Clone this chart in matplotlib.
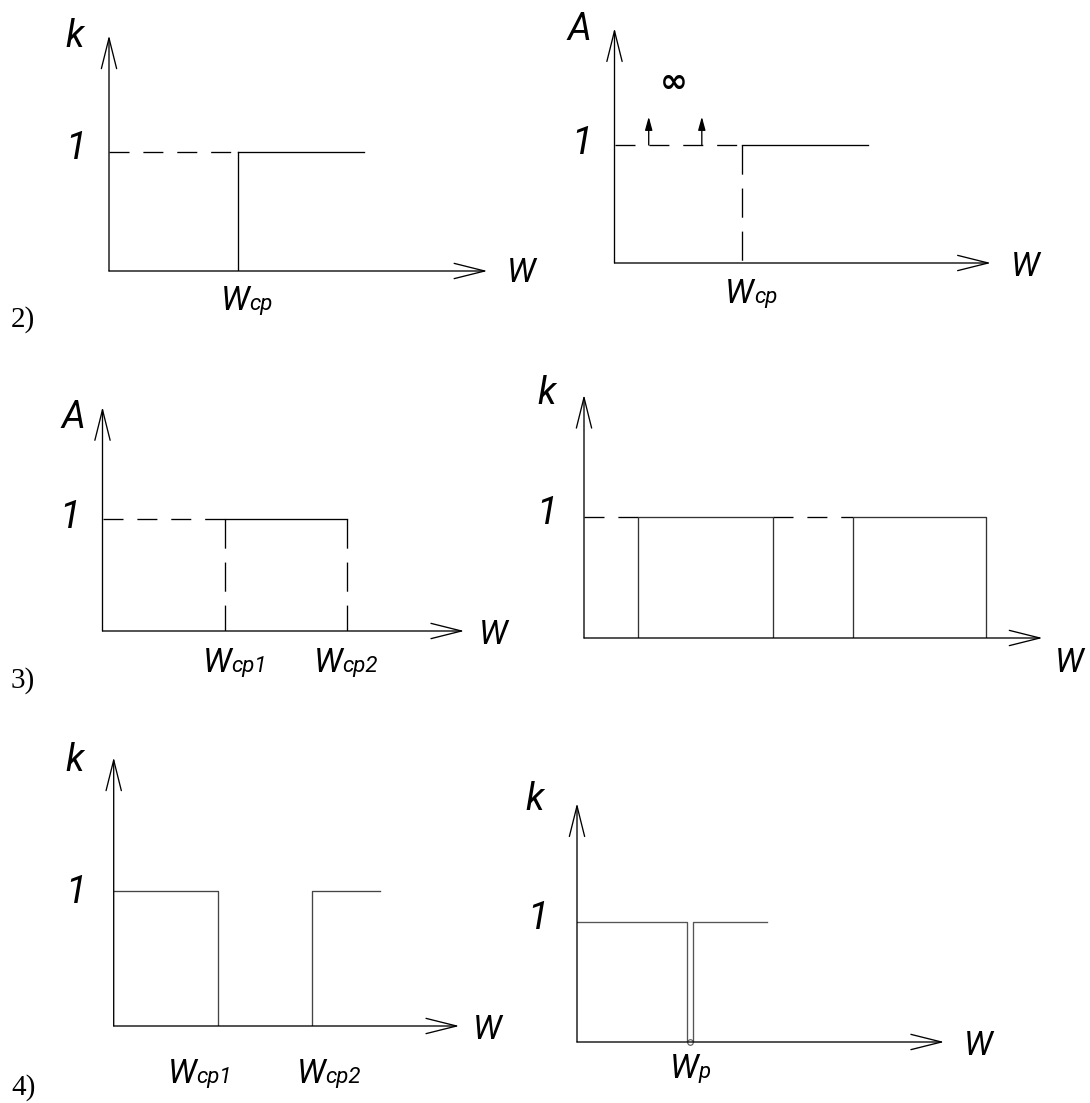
import matplotlib.pyplot as plt

plt.rcParams['font.family'] = ['Roboto', 'DejaVu Sans']
plt.rcParams['lines.scale_dashes'] = False

W_PX, H_PX = 1090, 1103

# 2) low-pass k(w): dashed to cutoff, solid after
lp_cut = 1.08
lp_end = 2.14
# 2) A(w): two delta spikes in the stop band
hp_cut = 1.08
hp_end = 2.15
hp_spikes = [0.29, 0.74]
hp_spike_top = 1.24
# 3) band-pass A(w)
bp_cuts = [1.09, 2.18]
# 3) comb k(w): two pass bands
comb_edges = [0.45, 1.56, 2.22, 3.32]
# 4) band-stop k(w)
bs_cuts = [0.77, 1.47]
bs_end = 1.97
# 4) notch k(w)
notch = [0.915, 0.97]
notch_end = 1.58
level = 1.0

LW = 0.95
DASH_H = (0, (14.4, 10))
DASH_V = (0, (21, 10))
TXT = dict(style='italic', clip_on=False)


def make_panel(ox, oy, unit, xmax, ymax):
    # ox, oy: origin in pixels, unit: pixels per data unit
    ax = fig.add_axes([ox / W_PX, 1 - oy / H_PX, xmax * unit / W_PX, ymax * unit / H_PX])
    ax.set_xlim(0, xmax)
    ax.set_ylim(0, ymax)
    ax.axis('off')
    arrow = dict(arrowstyle='->,head_length=2.2,head_width=0.55', lw=LW, color='k',
                 shrinkA=0, shrinkB=0)
    ax.annotate('', xy=(xmax, 0), xytext=(0, 0), arrowprops=arrow, annotation_clip=False)
    ax.annotate('', xy=(0, ymax), xytext=(0, 0), arrowprops=arrow, annotation_clip=False)
    return ax


def labels(ax, ylab, ypos, onepos, wpos, subs):
    ax.text(*ypos, ylab, fontsize=27, ha='center', va='center', **TXT)
    ax.text(*onepos, '1', fontsize=28, ha='center', va='center', **TXT)
    ax.text(*wpos, 'W', fontsize=24, ha='center', va='center', **TXT)
    for x, y, s in subs:
        ax.text(x, y, 'W', fontsize=24, ha='right', va='baseline', **TXT)
        ax.text(x, y, s, fontsize=16, ha='left', va='baseline', **TXT)


fig = plt.figure(figsize=(W_PX / 100, H_PX / 100), dpi=100)

# ---- 2) left
ax = make_panel(109, 271, 119, 3.18, 1.98)
ax.plot([0, lp_cut], [level, level], color='k', lw=LW, ls=DASH_H)
ax.plot([lp_cut, lp_end], [level, level], color='k', lw=LW)
ax.plot([lp_cut, lp_cut], [0, level], color='k', lw=LW)
labels(ax, 'k', (-0.29, 1.97), (-0.28, 1.03), (3.46, -0.02), [(1.18, -0.33, 'ср')])

# ---- 2) right
ax = make_panel(614.5, 263, 118, 3.19, 1.99)
ax.plot([0, hp_cut], [level, level], color='k', lw=LW, ls=DASH_H)
ax.plot([hp_cut, hp_end], [level, level], color='k', lw=LW)
ax.plot([hp_cut, hp_cut], [level, 0], color='k', lw=LW, ls=DASH_V)
for s in hp_spikes:
    ax.annotate('', xy=(s, hp_spike_top), xytext=(s, level),
                arrowprops=dict(arrowstyle='-|>,head_length=0.8,head_width=0.22',
                                lw=LW, color='k', shrinkA=0, shrinkB=0))
ax.text(0.50, 1.53, '∞', fontsize=24, fontweight='bold', ha='center', va='center',
        family='DejaVu Sans', **TXT)
labels(ax, 'A', (-0.30, 1.98), (-0.28, 1.01), (3.48, -0.03), [(1.18, -0.34, 'ср')])

# ---- 3) left
ax = make_panel(102.5, 631, 112, 3.23, 2.0)
ax.plot([0, bp_cuts[0]], [level, level], color='k', lw=LW, ls=DASH_H)
ax.plot(bp_cuts, [level, level], color='k', lw=LW)
for c in bp_cuts:
    ax.plot([c, c], [level, 0], color='k', lw=LW, ls=DASH_V)
labels(ax, 'A', (-0.26, 1.91), (-0.29, 1.01), (3.49, -0.04),
       [(1.15, -0.37, 'ср1'), (2.14, -0.37, 'ср2')])

# ---- 3) right
ax = make_panel(584, 638, 121, 3.79, 2.01)
ax.plot([0, comb_edges[0]], [level, level], color='k', lw=LW, ls=DASH_H)
ax.plot([comb_edges[1], comb_edges[2]], [level, level], color='k', lw=LW, ls=DASH_H)
for a, b in [(comb_edges[0], comb_edges[1]), (comb_edges[2], comb_edges[3])]:
    ax.plot([a, a, b, b], [0, level, level, 0], color='#333333', lw=LW)
labels(ax, 'k', (-0.31, 2.02), (-0.31, 1.03), (4.01, -0.21), [])

# ---- 4) left
ax = make_panel(113.7, 1026, 135, 2.56, 1.99)
ax.plot([0, bs_cuts[0], bs_cuts[0]], [level, level, 0], color='#444444', lw=LW)
ax.plot([bs_cuts[1], bs_cuts[1], bs_end], [0, level, level], color='#444444', lw=LW)
labels(ax, 'k', (-0.29, 1.97), (-0.28, 0.99), (2.77, -0.03),
       [(0.613, -0.42, 'ср1'), (1.57, -0.42, 'ср2')])

# ---- 4) right
ax = make_panel(577, 1042, 120, 3.06, 1.99)
ax.plot([0, notch[0], notch[0], notch[1], notch[1], notch_end],
        [level, level, 0, 0, level, level], color='#555555', lw=LW)
ax.plot([sum(notch) / 2], [0], marker='o', ms=4, mfc='white', mec='#555555',
        mew=0.8, clip_on=False)
labels(ax, 'k', (-0.35, 2.02), (-0.33, 1.03), (3.34, -0.03), [(1.01, -0.30, 'р')])

# panel numbers
for txt, ybase in [('2)', 327), ('3)', 688), ('4)', 1095)]:
    fig.text(11 / W_PX, 1 - ybase / H_PX, txt, family='Liberation Serif', fontsize=21,
             ha='left', va='baseline')

fig.savefig('out.png', dpi=100, facecolor='white')
